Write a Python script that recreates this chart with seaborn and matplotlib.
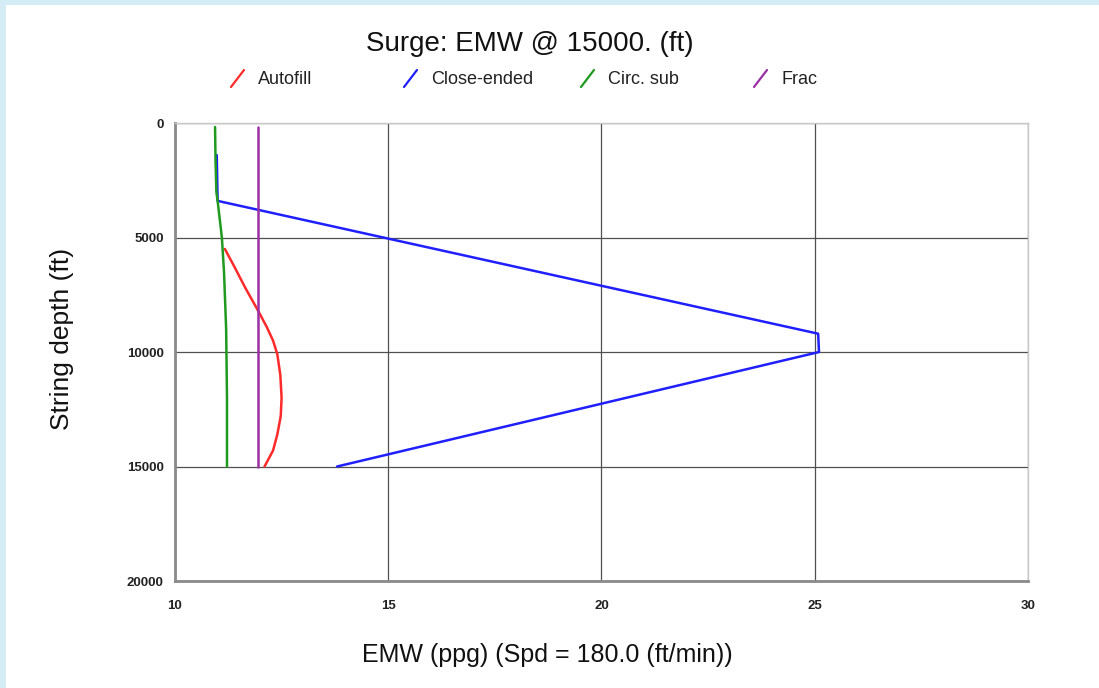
import numpy as np
import pandas as pd
import matplotlib.pyplot as plt
from matplotlib.lines import Line2D
import seaborn as sns

sns.set_theme(style='white')
plt.rcParams['font.family'] = ['Liberation Sans', 'DejaVu Sans']

# values (EMW in ppg, depth in ft)
autofill_emw = [11.17, 11.4, 11.65, 11.95, 12.15, 12.3, 12.4, 12.47, 12.5, 12.48, 12.4, 12.3, 12.1]
autofill_depth = [5500, 6300, 7200, 8200, 8900, 9500, 10100, 11000, 12000, 12800, 13600, 14300, 15000]

closed_emw = [10.98, 11.0, 25.08, 25.1, 13.8]
closed_depth = [1400, 3400, 9200, 10000, 15000]

circ_emw = [10.94, 10.95, 10.97, 11.0, 11.1, 11.15, 11.2, 11.22, 11.22]
circ_depth = [175, 1500, 3000, 3400, 5000, 6500, 9000, 12000, 15000]

frac_emw = [11.95, 11.95]
frac_depth = [175, 15000]

series = ['Autofill', 'Close-ended', 'Circ. sub', 'Frac']
colors = ['#ff2a2a', '#1f1fff', '#1f9a1f', '#9b2fa6']

frames = []
for name, e, d in zip(series,
                      [autofill_emw, closed_emw, circ_emw, frac_emw],
                      [autofill_depth, closed_depth, circ_depth, frac_depth]):
    frames.append(pd.DataFrame({'emw': e, 'depth': d, 'series': name}))
df = pd.concat(frames, ignore_index=True)

fig = plt.figure(figsize=(10.99, 6.88), dpi=100)
fig.patch.set_facecolor('#d3ecf5')
# white panel inside the light blue frame
fig.patches.append(plt.Rectangle((6 / 1099, 0), 1, 1 - 5 / 688, transform=fig.transFigure,
                                 facecolor='white', edgecolor='none', zorder=-10))

ax = fig.add_axes([0.1592, 0.1555, 0.7762, 0.6657])
ax.set_facecolor('white')

sns.lineplot(data=df, x='emw', y='depth', hue='series', palette=colors, hue_order=series,
             sort=False, estimator=None, lw=1.8, legend=False, ax=ax)

ax.set_xlim(10, 30)
ax.set_ylim(20000, 0)
ax.set_xticks([10, 15, 20, 25, 30])
ax.set_yticks([0, 5000, 10000, 15000, 20000])
ax.grid(True, color='#505050', lw=0.9)
ax.tick_params(length=0, labelsize=9.5, pad=14)
ax.tick_params(axis='y', pad=8)
for lab in ax.get_xticklabels() + ax.get_yticklabels():
    lab.set_fontweight('bold')
    lab.set_color('#222222')

for side in ['top', 'right']:
    ax.spines[side].set_color('#c8c8c8')
    ax.spines[side].set_linewidth(1.0)
for side in ['left', 'bottom']:
    ax.spines[side].set_color('#8a8a8a')
    ax.spines[side].set_linewidth(2.0)

ax.set_xlabel('EMW (ppg) (Spd = 180.0 (ft/min))', fontsize=18, color='#111111')
ax.xaxis.set_label_coords((547 - 175) / 853, -(655 - 581) / 458)
ax.xaxis.label.set_va('center')
ax.set_ylabel('String depth (ft)', fontsize=19, color='#111111')
ax.yaxis.set_label_coords(-(175 - 62) / 853, (581 - 339) / 458)
ax.yaxis.label.set_va('center')

fig.text(530 / 1099, 1 - 44 / 688, 'Surge: EMW @ 15000. (ft)', ha='center', va='center',
         fontsize=20, color='#111111')

# legend row: short slash + label
leg_x = [231, 404, 581, 754]
for x, name, c in zip(leg_x, series, colors):
    fx = x / 1099
    fig.add_artist(Line2D([fx, fx + 13 / 1099], [1 - 87 / 688, 1 - 70 / 688],
                          transform=fig.transFigure, color=c, lw=1.6))
    fig.text(fx + 27 / 1099, 1 - 79 / 688, name, ha='left', va='center', fontsize=13,
             color='#222222')

fig.savefig('out.png', dpi=100)
